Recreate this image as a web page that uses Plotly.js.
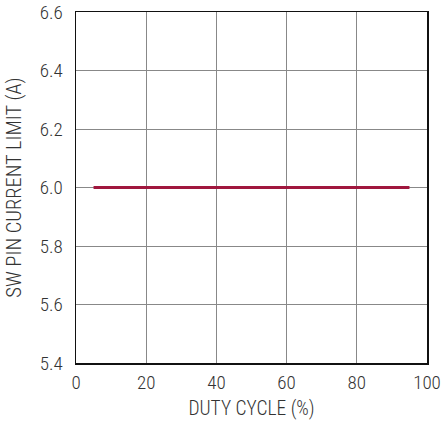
<!DOCTYPE html>
<html>
<head>
<meta charset="utf-8">
<script src="https://cdn.plot.ly/plotly-3.0.1.min.js"></script>
<style>html,body{margin:0;padding:0;background:#fff;}#chart{width:445px;height:423px;}</style>
</head>
<body>
<div id="chart"></div>
<script>
const dutyCycle = [5, 95];
const currentLimit = [6.0, 6.0];
const xTicks = [0, 20, 40, 60, 80, 100];
const yTicks = [5.4, 5.6, 5.8, 6.0, 6.2, 6.4, 6.6];

const fontFam = '"Roboto Condensed", "Liberation Sans Narrow", "Liberation Sans", Arial, sans-serif';
const txtColor = '#333';

Plotly.newPlot('chart', [{
  x: dutyCycle,
  y: currentLimit,
  mode: 'lines',
  line: {color: '#A0173E', width: 3},
  hoverinfo: 'none'
}], {
  width: 445, height: 423,
  margin: {l: 76, r: 18, t: 12, b: 60, pad: 0},
  paper_bgcolor: '#fff', plot_bgcolor: '#fff',
  showlegend: false,
  font: {family: fontFam, size: 19, color: txtColor, weight: 300},
  xaxis: {
    range: [0, 100], tickvals: xTicks, ticktext: xTicks.map(String),
    showgrid: true, gridcolor: '#888', gridwidth: 1,
    showline: true, linecolor: '#111', linewidth: 1.5, mirror: true,
    zeroline: false, ticks: '', ticklen: 0, ticklabelstandoff: 2,
    tickfont: {family: fontFam, size: 19, color: txtColor, weight: 300},
    title: {text: 'DUTY CYCLE (%)', font: {family: fontFam, size: 19.5, color: txtColor, weight: 300}, standoff: 8}
  },
  yaxis: {
    range: [5.4, 6.6], tickvals: yTicks, ticktext: yTicks.map(v => v.toFixed(1)),
    showgrid: true, gridcolor: '#888', gridwidth: 1,
    showline: true, linecolor: '#111', linewidth: 1.5, mirror: true,
    zeroline: false, ticks: '', ticklen: 0, ticklabelstandoff: 8,
    tickfont: {family: fontFam, size: 19, color: txtColor, weight: 300},
    title: {text: 'SW PIN CURRENT LIMIT (A)', font: {family: fontFam, size: 20.5, color: txtColor, weight: 300}, standoff: 12}
  }
}, {staticPlot: true, displayModeBar: false});
</script>
</body>
</html>
